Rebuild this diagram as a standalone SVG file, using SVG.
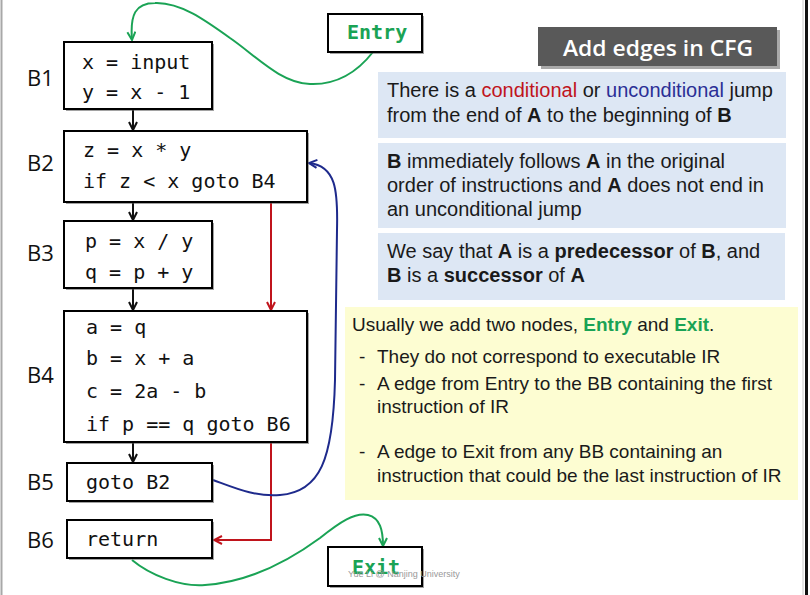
<svg xmlns="http://www.w3.org/2000/svg" width="810" height="595" viewBox="0 0 810 595">
<defs>
<style>
.box{fill:#fff;stroke:#000;stroke-width:2}
.sh{fill:#555;opacity:0.55}
.code{font-family:"DejaVu Sans Mono","Liberation Mono",monospace;font-size:20px;fill:#111}
.lbl{font-family:"Open Sans","DejaVu Sans",sans-serif;font-size:22px;fill:#111}
.term{font-family:"DejaVu Sans Mono","Liberation Mono",monospace;font-size:20px;font-weight:bold;fill:#1aa355}
.txt{font-family:"Liberation Sans",Arial,sans-serif;font-size:20px;fill:#1a1a1a}
.ytx{font-family:"Liberation Sans",Arial,sans-serif;font-size:19px;fill:#1a1a1a}
.b{font-weight:bold}
.red{fill:#c0141c}
.blu{fill:#2b2f96}
.grn{fill:#1aa355;font-weight:bold}
.blk{stroke:#111;stroke-width:2;fill:none}
.rd{stroke:#c0141c;stroke-width:2;fill:none}
.bl{stroke:#1e2a8c;stroke-width:2;fill:none}
.gr{stroke:#1aa355;stroke-width:2;fill:none}
</style>
<marker id="ak" viewBox="0 0 10 10" refX="9" refY="5" markerWidth="10" markerHeight="10" markerUnits="userSpaceOnUse" orient="auto"><path d="M1,1 L9,5 L1,9" fill="none" stroke="#111" stroke-width="2"/></marker>
<marker id="ar" viewBox="0 0 10 10" refX="9" refY="5" markerWidth="10" markerHeight="10" markerUnits="userSpaceOnUse" orient="auto"><path d="M1,1 L9,5 L1,9" fill="none" stroke="#c0141c" stroke-width="2"/></marker>
<marker id="ab" viewBox="0 0 10 10" refX="9" refY="5" markerWidth="10" markerHeight="10" markerUnits="userSpaceOnUse" orient="auto"><path d="M1,1 L9,5 L1,9" fill="none" stroke="#1e2a8c" stroke-width="2"/></marker>
<marker id="ag" viewBox="0 0 10 10" refX="9" refY="5" markerWidth="10" markerHeight="10" markerUnits="userSpaceOnUse" orient="auto"><path d="M1,1 L9,5 L1,9" fill="none" stroke="#1aa355" stroke-width="2"/></marker>
</defs>
<rect x="0" y="0" width="810" height="595" fill="#fff"/>
<line x1="1.5" y1="0" x2="1.5" y2="595" stroke="#a8a8a8" stroke-width="2"/>
<line x1="803" y1="0" x2="803" y2="595" stroke="#c8c8c8" stroke-width="1"/>
<rect x="805" y="0" width="3" height="595" fill="#111"/>

<g id="title">
<rect x="541" y="30" width="239" height="39" fill="#a9a9a9"/>
<rect x="538" y="27" width="239" height="39" fill="#595959"/>
<text x="563" y="56" font-family="Open Sans,DejaVu Sans,sans-serif" font-size="21" font-weight="600" fill="#fff" textLength="190" lengthAdjust="spacingAndGlyphs">Add edges in CFG</text>
</g>

<g id="note1">
<rect x="378" y="72" width="408" height="66" fill="#dde7f4"/>
<text class="txt" x="387" y="97">There is a <tspan class="red">conditional</tspan> or <tspan class="blu">unconditional</tspan> jump</text>
<text class="txt" x="387" y="122">from the end of <tspan class="b">A</tspan> to the beginning of <tspan class="b">B</tspan></text>
</g>
<g id="note2">
<rect x="378" y="143" width="408" height="85" fill="#dde7f4"/>
<text class="txt" x="387" y="168"><tspan class="b">B</tspan> immediately follows <tspan class="b">A</tspan> in the original</text>
<text class="txt" x="387" y="192">order of instructions and <tspan class="b">A</tspan> does not end in</text>
<text class="txt" x="387" y="216">an unconditional jump</text>
</g>
<g id="note3">
<rect x="378" y="233" width="407" height="67" fill="#dde7f4"/>
<text class="txt" x="387" y="258">We say that <tspan class="b">A</tspan> is a <tspan class="b">predecessor</tspan> of <tspan class="b">B</tspan>, and</text>
<text class="txt" x="387" y="282"><tspan class="b">B</tspan> is a <tspan class="b">successor</tspan> of <tspan class="b">A</tspan></text>
</g>
<g id="note4">
<rect x="345" y="307" width="453" height="193" fill="#fdfdd2"/>
<text class="ytx" x="352" y="331">Usually we add two nodes, <tspan class="grn">Entry</tspan> and <tspan class="grn">Exit</tspan>.</text>
<text class="ytx" x="359" y="363">-</text>
<text class="ytx" x="377" y="363">They do not correspond to executable IR</text>
<text class="ytx" x="359" y="390">-</text>
<text class="ytx" x="377" y="390">A edge from Entry to the BB containing the first</text>
<text class="ytx" x="377" y="413">instruction of IR</text>
<text class="ytx" x="359" y="458">-</text>
<text class="ytx" x="377" y="458">A edge to Exit from any BB containing an</text>
<text class="ytx" x="377" y="482">instruction that could be the last instruction of IR</text>
</g>

<g id="connectors">
<line class="blk" x1="133" y1="110" x2="133" y2="130" marker-end="url(#ak)"/>
<line class="blk" x1="133" y1="203" x2="133" y2="220" marker-end="url(#ak)"/>
<line class="blk" x1="133" y1="289" x2="133" y2="310" marker-end="url(#ak)"/>
<line class="blk" x1="133" y1="443" x2="133" y2="462" marker-end="url(#ak)"/>
<line class="rd" x1="271" y1="203" x2="271" y2="310" marker-end="url(#ar)"/>
<path class="rd" d="M271,443 L271,540 L214,540" marker-end="url(#ar)"/>
<path class="bl" d="M213,480 C235,488 255,497 280,495 C320,492 333,460 335,380 L337,230 C338,190 336,166 309,163" marker-end="url(#ab)"/>
<path class="gr" d="M373,52 C355,75 335,85 310,84 C280,83 255,55 230,38 C205,20 180,2 155,3 C135,3 130,15 132,40" marker-end="url(#ag)"/>
<path class="gr" d="M132,560 C150,575 180,587 205,585 C250,582 290,560 320,538 C340,522 355,512 368,515 C380,518 383,530 383,546" marker-end="url(#ag)"/>
</g>

<g id="entry">
<rect class="sh" x="330" y="16" width="94" height="38"/>
<rect class="box" x="328" y="14" width="94" height="38"/>
<text class="term" x="347" y="39">Entry</text>
</g>
<g id="exit">
<rect class="sh" x="330" y="549" width="94" height="39"/>
<rect class="box" x="328" y="547" width="94" height="39"/>
<text class="term" x="352" y="574">Exit</text>
<text x="348" y="577" font-family="Liberation Sans,Arial,sans-serif" font-size="9" fill="#999">Yue Li @ Nanjing University</text>
</g>

<g id="B1">
<rect class="sh" x="66" y="44" width="148" height="67"/>
<rect class="box" x="64" y="42" width="148" height="67"/>
<text class="lbl" x="27" y="86">B1</text>
<text class="code" x="82" y="69">x = input</text>
<text class="code" x="82" y="99">y = x - 1</text>
</g>
<g id="B2">
<rect class="sh" x="66" y="133" width="243" height="71"/>
<rect class="box" x="64" y="131" width="243" height="71"/>
<text class="lbl" x="27" y="171">B2</text>
<text class="code" x="83" y="157">z = x * y</text>
<text class="code" x="83" y="188">if z &lt; x goto B4</text>
</g>
<g id="B3">
<rect class="sh" x="66" y="223" width="148" height="67"/>
<rect class="box" x="64" y="221" width="148" height="67"/>
<text class="lbl" x="27" y="261">B3</text>
<text class="code" x="85" y="248">p = x / y</text>
<text class="code" x="85" y="279">q = p + y</text>
</g>
<g id="B4">
<rect class="sh" x="66" y="313" width="243" height="131"/>
<rect class="box" x="64" y="311" width="243" height="131"/>
<text class="lbl" x="27" y="383">B4</text>
<text class="code" x="86" y="334">a = q</text>
<text class="code" x="86" y="365">b = x + a</text>
<text class="code" x="86" y="398">c = 2a - b</text>
<text class="code" x="86" y="431">if p == q goto B6</text>
</g>
<g id="B5">
<rect class="sh" x="69" y="465" width="145" height="38"/>
<rect class="box" x="67" y="463" width="145" height="38"/>
<text class="lbl" x="27" y="490">B5</text>
<text class="code" x="86" y="489">goto B2</text>
</g>
<g id="B6">
<rect class="sh" x="69" y="522" width="145" height="38"/>
<rect class="box" x="67" y="520" width="145" height="38"/>
<text class="lbl" x="27" y="548">B6</text>
<text class="code" x="86" y="546">return</text>
</g>
</svg>
